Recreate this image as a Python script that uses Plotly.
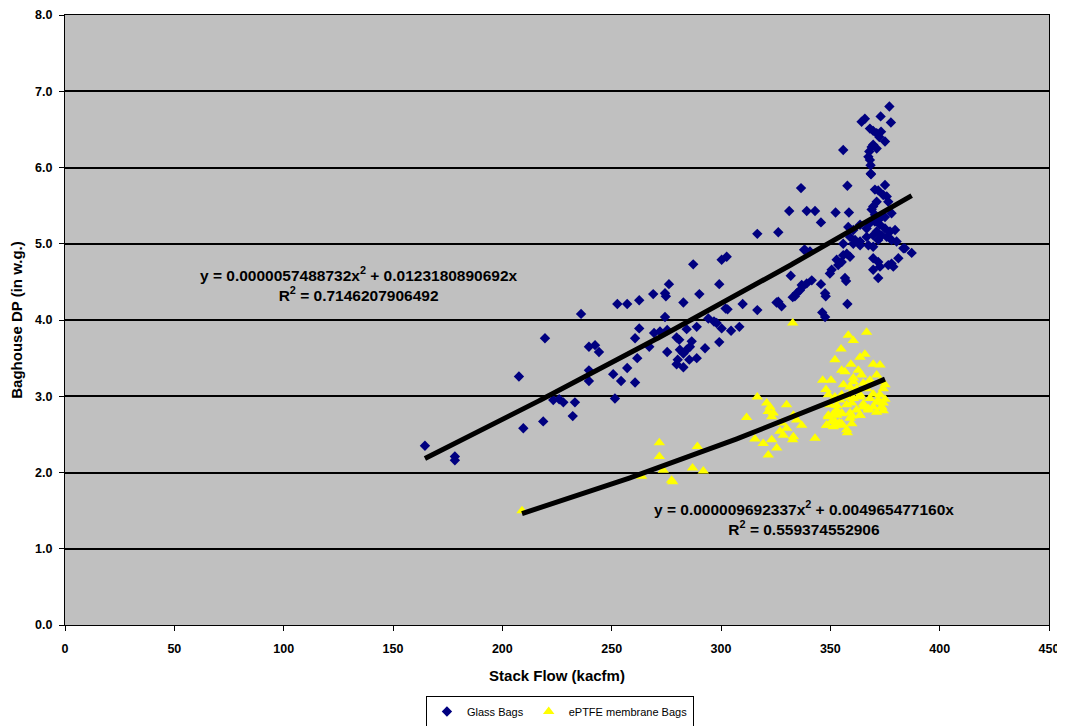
import numpy as np
import plotly.graph_objects as go

# ---------------- data ----------------
glass_x = [164.6, 178.3, 178.3, 207.6, 209.6, 218.7, 219.5, 223.3, 226.0, 227.9, 233.2, 232.2, 236.0,
           239.6, 242.4, 239.6, 239.6, 244.2, 316.6, 326.2, 287.3, 300.3, 302.6, 299.2, 290.1, 276.2,
           274.4, 274.8, 269.0, 262.6, 257.1, 252.6, 282.8, 309.9, 302.1, 303.0, 316.6, 325.4, 274.4,
           262.6, 260.7, 269.4, 272.1, 275.4, 267.2, 279.7, 280.9, 284.3, 288.9, 294.2, 296.8, 298.0,
           300.3, 304.6, 308.4, 299.2, 292.7, 286.6, 285.8, 284.3, 281.2, 282.8, 275.4, 285.5, 288.9,
           279.7, 282.8, 261.7, 257.1, 250.7, 254.3, 260.7, 251.5, 280.2,
           368.6, 336.6, 357.8, 375.0, 371.9, 370.4, 374.2, 376.5, 375.8, 371.2, 369.6, 368.9, 331.2,
           339.2, 343.0, 352.4, 358.5, 345.7, 378.0, 355.9, 338.4, 383.4, 387.2, 355.9, 359.0, 355.2,
           352.9, 353.6, 350.6, 349.8, 369.6, 371.9, 372.7, 376.5, 378.0, 378.8, 381.1, 369.6, 371.9,
           356.7, 357.2, 331.9, 341.5, 339.2, 337.4, 336.1, 333.8, 332.8, 345.7, 347.6, 347.9, 326.2,
           327.7, 357.8, 346.3, 347.6, 377.0, 373.0, 377.7, 364.3, 365.8, 368.1, 369.6, 371.2, 373.2,
           372.4, 375.0, 369.6, 371.2, 368.9, 355.9, 367.8, 367.4, 368.1, 368.4, 368.5, 338.0, 340.7,
           358.2, 360.5, 363.6, 366.6, 368.1, 370.4, 372.7, 375.0, 377.3, 379.6, 371.2, 373.5, 375.8,
           378.0, 380.3, 359.0, 361.3, 363.6, 366.6, 369.6, 371.9, 367.4, 369.6, 363.6, 360.5, 370.4,
           372.7, 375.0, 384.1, 357.5, 336.9, 334.6]
glass_y = [2.35, 2.16, 2.21, 3.26, 2.58, 2.67, 3.76, 2.95, 2.96, 2.92, 2.92, 2.74, 4.08,
           3.65, 3.67, 3.34, 3.20, 3.58, 5.13, 5.15, 4.73, 4.79, 4.83, 4.47, 4.34, 4.47,
           4.35, 4.31, 4.34, 4.26, 4.21, 4.21, 4.23, 4.21, 4.15, 4.14, 4.13, 4.23, 4.04,
           3.89, 3.76, 3.83, 3.85, 3.87, 3.65, 3.77, 3.74, 3.88, 3.91, 4.02, 3.98, 3.96,
           3.89, 3.86, 3.91, 3.71, 3.63, 3.72, 3.65, 3.61, 3.61, 3.56, 3.58, 3.48, 3.50,
           3.42, 3.38, 3.50, 3.37, 3.29, 3.20, 3.18, 2.97, 3.48,
           5.91, 5.73, 5.76, 5.77, 5.70, 5.71, 5.64, 5.55, 5.62, 5.55, 5.49, 5.45, 5.43,
           5.43, 5.43, 5.41, 5.41, 5.28, 5.40, 5.00, 4.92, 4.94, 4.88, 4.85, 4.83, 4.76,
           4.79, 4.72, 4.66, 4.61, 4.81, 4.76, 4.70, 4.72, 4.74, 4.70, 4.81, 4.66, 4.55,
           4.55, 4.51, 4.58, 4.52, 4.48, 4.44, 4.39, 4.31, 4.30, 4.47, 4.35, 4.31, 4.24,
           4.18, 4.21, 4.10, 4.04, 6.80, 6.67, 6.59, 6.60, 6.64, 6.51, 6.48, 6.45, 6.47,
           6.40, 6.34, 6.30, 6.25, 6.27, 6.23, 6.21, 6.14, 6.10, 6.03, 5.92, 4.92, 4.90,
           5.22, 5.18, 5.25, 5.20, 5.27, 5.29, 5.25, 5.20, 5.16, 5.18, 5.16, 5.11, 5.09,
           5.05, 5.03, 5.09, 5.05, 5.03, 5.09, 5.11, 5.05, 4.98, 4.96, 4.98, 5.00, 5.38,
           5.33, 5.35, 4.94, 4.87, 4.46, 4.35]

eptfe_x = [209.0, 332.8, 358.2, 366.6, 360.5, 354.9, 352.1, 365.8, 363.6, 359.4, 355.2, 356.7, 362.8,
           369.6, 372.7, 346.5, 350.3, 348.0, 360.5, 364.3, 368.1, 371.2, 356.0, 360.5, 365.1, 372.7,
           375.0, 349.1, 352.1, 355.2, 359.0, 363.6, 369.6, 372.7, 375.0, 349.8, 352.9, 357.5, 359.8,
           365.1, 371.2, 373.5, 367.4, 349.1, 352.9, 355.2, 359.8, 363.6, 371.2, 374.2, 348.3, 352.1,
           355.2, 359.8, 357.5, 357.8, 343.0, 316.6, 311.7, 320.9, 322.4, 321.6, 323.9, 323.2, 330.0,
           333.1, 334.6, 336.9, 327.8, 330.0, 327.0, 328.5, 333.1, 332.8, 315.5, 319.3, 323.2, 325.5,
           321.6, 271.8, 271.8, 289.2, 273.6, 287.0, 291.9, 277.4, 277.9, 263.7, 351.4, 350.6,
           359.0, 362.0, 366.6, 374.2, 351.4, 354.4, 357.5, 360.5, 363.6, 368.1, 371.9, 374.2,
           352.9, 355.2, 359.0, 362.0, 365.1, 369.6, 373.5, 349.1, 352.1, 355.2, 359.0, 363.6,
           367.4, 348.3, 351.4, 354.1]
eptfe_y = [1.50, 3.96, 3.80, 3.84, 3.73, 3.62, 3.48, 3.55, 3.51, 3.42, 3.34, 3.32, 3.34,
           3.42, 3.41, 3.21, 3.21, 3.09, 3.24, 3.28, 3.21, 3.28, 3.15, 3.19, 3.17, 3.19,
           3.15, 3.02, 2.99, 3.02, 3.03, 3.02, 3.03, 3.02, 2.96, 2.89, 2.88, 2.89, 2.91,
           2.90, 2.92, 2.86, 2.84, 2.75, 2.75, 2.77, 2.74, 2.75, 2.79, 2.81, 2.62, 2.62,
           2.64, 2.64, 2.56, 2.52, 2.45, 2.99, 2.72, 2.91, 2.86, 2.80, 2.78, 2.73, 2.89,
           2.75, 2.69, 2.62, 2.65, 2.58, 2.54, 2.49, 2.47, 2.43, 2.44, 2.38, 2.43, 2.32,
           2.23, 2.39, 2.21, 2.34, 2.03, 2.06, 2.02, 1.90, 1.88, 1.95, 2.77, 2.67,
           3.12, 3.10, 3.10, 3.10, 2.95, 2.95, 2.99, 2.97, 2.99, 2.97, 2.95, 2.91,
           2.82, 2.78, 2.78, 2.82, 2.86, 2.86, 2.86, 2.73, 2.67, 2.62, 2.71, 2.75,
           2.82, 2.62, 2.60, 2.65]

# Trendline coefficients as printed on the chart
glass_a, glass_b = 0.0000057488732, 0.0123180890692
glass_range = [164.6, 387.2]
eptfe_a, eptfe_b = 0.000009692337, 0.004965477160
eptfe_range = [209.0, 375.0]

x_ticks = [0, 50, 100, 150, 200, 250, 300, 350, 400, 450]
y_ticks = [0.0, 1.0, 2.0, 3.0, 4.0, 5.0, 6.0, 7.0, 8.0]

FONT = "Liberation Sans, Arial, sans-serif"

gx = np.linspace(glass_range[0], glass_range[1], 300)
gy = glass_a * gx ** 2 + glass_b * gx
ex = np.linspace(eptfe_range[0], eptfe_range[1], 300)
ey = eptfe_a * ex ** 2 + eptfe_b * ex

fig = go.Figure()
fig.add_trace(go.Scatter(x=glass_x, y=glass_y, mode="markers", name="Glass Bags",
                         marker=dict(symbol="diamond", size=8, color="#000080")))
fig.add_trace(go.Scatter(x=eptfe_x, y=eptfe_y, mode="markers", name="ePTFE membrane Bags",
                         marker=dict(symbol="triangle-up", size=10, color="#FFFF00")))
fig.add_trace(go.Scatter(x=gx, y=gy, mode="lines", showlegend=False, hoverinfo="skip",
                         line=dict(color="black", width=5)))
fig.add_trace(go.Scatter(x=ex, y=ey, mode="lines", showlegend=False, hoverinfo="skip",
                         line=dict(color="black", width=5)))

fig.add_annotation(x=134.5, y=4.47, xref="x", yref="y", showarrow=False, align="center",
                   text="y = 0.0000057488732x<sup>2</sup> + 0.0123180890692x<br>R<sup>2</sup> = 0.7146207906492",
                   font=dict(family=FONT, size=15.5, color="black", weight="bold"))
fig.add_annotation(x=338.0, y=1.40, xref="x", yref="y", showarrow=False, align="center",
                   text="y = 0.000009692337x<sup>2</sup> + 0.004965477160x<br>R<sup>2</sup> = 0.559374552906",
                   font=dict(family=FONT, size=15.5, color="black", weight="bold"))

# legend shadow (drawn behind the legend box, offset down-right)
fig.add_shape(type="rect", xref="paper", yref="paper", x0=0.3704, x1=0.6377, y0=-0.1672, y1=-0.1213,
              fillcolor="black", line=dict(width=0), layer="above")

fig.update_layout(
    width=1057, height=718,
    margin=dict(l=57, r=16, t=7, b=101, autoexpand=False),
    paper_bgcolor="white", plot_bgcolor="#C0C0C0",
    font=dict(family=FONT, color="black"),
    showlegend=True,
    legend=dict(orientation="h", x=0.503, xanchor="center", y=-0.1164, yanchor="top",
                bgcolor="white", bordercolor="black", borderwidth=1,
                font=dict(family=FONT, size=11), itemwidth=30, tracegroupgap=0),
    xaxis=dict(range=[0, 450], tickvals=x_ticks, ticks="outside", ticklen=5, tickcolor="black",
               showline=True, linecolor="black", linewidth=1, mirror=True, showgrid=False,
               zeroline=False, tickfont=dict(family=FONT, size=12.5, weight="bold"),
               ticklabelstandoff=7,
               title=dict(text="Stack Flow (kacfm)", font=dict(family=FONT, size=15, weight="bold"),
                          standoff=15)),
    yaxis=dict(range=[0, 8], tickvals=y_ticks, tickformat=".1f", ticks="outside", ticklen=5,
               tickcolor="black", showline=True, linecolor="black", linewidth=1, mirror=True,
               showgrid=True, gridcolor="black", gridwidth=1.5, zeroline=False,
               tickfont=dict(family=FONT, size=12.5, weight="bold"), ticklabelstandoff=4,
               title=dict(text="Baghouse DP (in w.g.)", font=dict(family=FONT, size=15, weight="bold"),
                          standoff=8)),
)

fig.write_html("out.html")
